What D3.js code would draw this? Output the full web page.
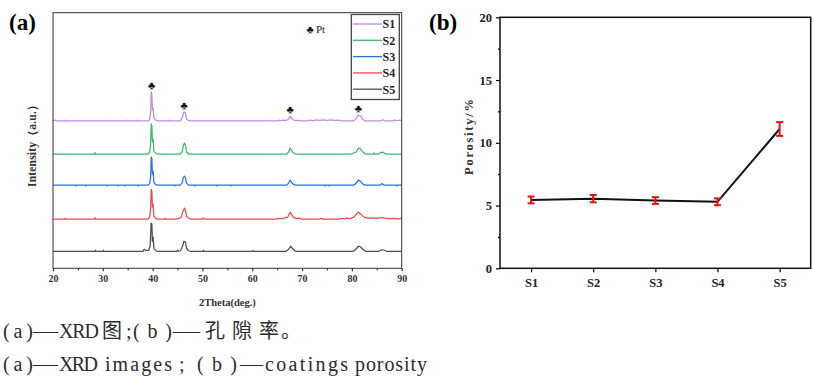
<!DOCTYPE html>
<html lang="en">
<head>
<meta charset="UTF-8">
<title>XRD patterns and coating porosity</title>
<script src="https://d3js.org/d3.v7.min.js"></script>
<style>
  body { margin: 0; background: #fff; }
  svg { display: block; }
  text { font-family: "Liberation Serif", "Times New Roman", serif; }
  .caption { font-family: "Liberation Serif", "Noto Sans CJK SC", serif; fill: #2b2b2b; font-size: 20px; }
  .caption.cjk { font-family: "Noto Sans CJK SC", sans-serif; font-size: 20px; }
</style>
</head>
<body>
<svg width="814" height="388"></svg>

<script>
// ---------- data ----------
const samples = ["S1", "S2", "S3", "S4", "S5"];
const sampleColors = ["#be8de6", "#3db56f", "#2672e2", "#f04a4a", "#4d4d4d"];
// vertical stacking of each pattern, a.u.
const stackOffsets = [130, 97, 66, 32, 0];

// XRD patterns: [2theta, intensity a.u.]
const xrdS1 = [[20,0],[20.6,0.8],[20.8,0],[22.5,0],[22.6,0.8],[22.7,0],[24.3,0],[24.4,0.7],[24.5,0],[30.8,0],[30.9,0.7],[31,0],
  [34.5,0],[34.6,0.8],[34.7,0],[36.8,0],[36.9,0.8],[37,0],[39.1,0],[39.4,1.5],[39.6,9],[39.72,29],[39.85,27],[39.95,11],[40.1,13],
  [40.25,3],[40.6,0.8],[41,0],[43.2,0],[43.3,0.8],[43.4,0],[45.4,0],[45.8,1.5],[46.1,6],[46.3,9],[46.6,8],[46.8,2],[47.2,0.5],[47.6,0],
  [48.3,0],[48.4,0.7],[48.5,0],[62.6,0],[62.8,0.7],[63,0],[65.2,0],[65.4,0.8],[65.7,0.3],[66.3,0.8],[66.8,0.5],[67.2,1.5],[67.6,5],
  [68.1,1.5],[68.6,0.3],[69.5,0.6],[70,0],[71.2,0],[71.5,0.8],[72.2,0.4],[72.8,1],[73.5,0.5],[74.2,1],[75,0.6],[75.8,1],[76.5,0.5],
  [77.3,0.8],[78,0],[80.3,0],[80.8,2],[81.3,6],[81.7,5],[82.2,1.5],[82.7,0],[85.8,0],[86.2,1.2],[86.6,0],[88.3,0],[88.6,0.8],
  [89.2,0.3],[89.6,0.8],[90,0.3]];
const xrdS2 = [[20,0],[28.3,0],[28.4,1.5],[28.5,0],[39.1,0],[39.4,2],[39.6,10],[39.72,30],[39.85,28],[39.95,12],[40.1,15],[40.25,3],
  [40.6,0.8],[41,0],[45.5,0],[45.9,2],[46.2,9],[46.4,11],[46.6,9],[46.8,2],[47.2,0],[66.9,0],[67.3,2],[67.6,6],[68.1,2],[68.6,0],
  [79.8,0],[80.3,1],[80.9,2],[81.3,6],[81.7,5.5],[82.2,2],[82.7,0],[84.3,0],[84.5,1.2],[84.7,0],[85.4,0],[85.8,1.5],[86.2,2],
  [86.6,0.5],[87,0],[90,0]];
const xrdS3 = [[20,0],[24.5,0],[24.6,-0.8],[24.7,0],[26.5,0],[26.6,-0.8],[26.7,0],[30.8,0],[30.9,-0.8],[31,0],[33,0],[33.1,-0.8],
  [33.2,0],[34.3,0],[34.4,-0.8],[34.5,0],[37,0],[37.1,-0.8],[37.2,0],[39.1,0],[39.4,1.5],[39.6,8],[39.72,28],[39.85,26],[39.95,11],
  [40.1,14],[40.25,3],[40.6,0.5],[41,0],[44.4,0],[44.5,-0.8],[44.6,0],[45.5,0],[45.9,2],[46.2,8],[46.4,9],[46.6,7],[46.8,2],[47.2,0],
  [48.4,0],[48.5,-0.8],[48.6,0],[52.8,0],[52.9,-0.8],[53,0],[55.6,0],[55.7,-0.8],[55.8,0],[66.9,0],[67.3,2],[67.6,5],[68.1,1.5],
  [68.6,0],[74.5,0],[74.6,-0.8],[74.7,0],[75.3,0],[75.4,-0.8],[75.5,0],[80.3,0],[80.8,1.5],[81.3,5],[81.7,4],[82.2,1],[82.7,0],
  [85.7,0],[86,1.5],[86.4,0],[88.9,0],[89,-0.8],[89.1,0],[90,0]];
const xrdS4 = [[20,0],[22.3,0],[22.4,0.8],[22.5,0],[28.3,0],[28.4,1.5],[28.5,0],[39.1,0],[39.4,2],[39.6,10],[39.72,30],[39.85,28],
  [39.95,12],[40.1,15],[40.25,3],[40.6,0.8],[41,0],[42.4,0],[42.5,0.8],[42.6,0],[44.8,0],[45.2,0.8],[45.7,1.5],[46.1,8],[46.4,11],
  [46.6,9],[46.8,3],[47.3,0.5],[47.8,0],[50,0],[50.2,1.2],[50.4,0],[64.8,0],[65.2,0.8],[65.8,0.3],[66.4,1],[67.1,2],[67.6,7],
  [68.2,2],[68.8,0.5],[69.4,1],[69.9,0],[73.5,0],[73.8,0.8],[74.2,0],[77.5,0],[77.9,0.8],[78.5,0.3],[79,1],[79.6,0.5],[80.4,2],
  [81.3,7],[81.8,5],[82.4,2],[83.2,1],[84,1.2],[85,0.8],[85.9,1.5],[86.6,1],[87.5,0.5],[88.4,0.8],[89.3,0.4],[90,0.8]];
const xrdS5 = [[20,0],[28.4,0],[28.5,1],[28.6,0],[30,0],[30.1,1],[30.2,0],[38.1,0],[38.3,2],[38.6,1],[39.2,1],[39.5,5],[39.7,28],
  [39.85,27],[39.95,10],[40.1,14],[40.25,3],[40.6,0.5],[41,0],[44.9,0],[45,1],[45.2,0],[45.6,0.5],[46,5],[46.3,10],[46.6,9],
  [46.8,3],[47.2,0.5],[47.6,0],[50.1,0],[50.2,1],[50.3,0],[60,0],[60.1,0.8],[60.2,0],[66.8,0],[67.3,2],[67.7,5],[68.2,2],[68.7,0],
  [80.3,0],[80.8,2],[81.3,5],[81.7,4.5],[82.3,1.5],[82.8,0],[85.4,0],[86,1.5],[86.5,1],[87,0],[90,0]];
const xrdPatterns = [xrdS1, xrdS2, xrdS3, xrdS4, xrdS5];

// Pt reflections marked with a club
const ptPeaks = [39.8, 46.3, 67.6, 81.3];
const xTicksA = [20, 30, 40, 50, 60, 70, 80, 90];
const xMinorA = [25, 35, 45, 55, 65, 75, 85];

// porosity panel
const porosity = [5.45, 5.55, 5.4, 5.3, 11.1];
const porosityErr = [0.27, 0.29, 0.27, 0.27, 0.55];
const yTicksB = [0, 5, 10, 15, 20];
const yMinorB = [2.5, 7.5, 12.5, 17.5];

// ---------- chart ----------
const svg = d3.select("svg");

// ===== panel (a) =====
const a = { left: 53, right: 401.7, top: 12.7, bottom: 268.3 };
const xA = d3.scaleLinear().domain([20, 90]).range([a.left, a.right]);
const yA = d3.scaleLinear().domain([-17, 238]).range([a.bottom, a.top]);

svg.append("text").attr("x", 9).attr("y", 30)
  .attr("font-size", 23).attr("font-weight", "bold").text("(a)");

const lineA = d3.line().x(d => xA(d[0]));
xrdPatterns.forEach((pts, i) => {
  svg.append("path")
    .attr("d", lineA.y(d => yA(d[1] + stackOffsets[i]))(pts))
    .attr("fill", "none")
    .attr("stroke", sampleColors[i])
    .attr("stroke-width", 1.25)
    .attr("stroke-linejoin", "round");
});

// club markers above the S1 peaks
ptPeaks.forEach(p => {
  const top = d3.max(xrdS1.filter(d => Math.abs(d[0] - p) < 0.8), d => d[1]);
  svg.append("text")
    .attr("x", xA(p)).attr("y", yA(stackOffsets[0] + top + 7))
    .attr("text-anchor", "middle").attr("dominant-baseline", "central")
    .attr("font-family", "DejaVu Sans").attr("font-size", 11).attr("fill", "#111")
    .text("\u2663");
});

// frame + axes
svg.append("rect")
  .attr("x", a.left).attr("y", a.top)
  .attr("width", a.right - a.left).attr("height", a.bottom - a.top)
  .attr("fill", "none").attr("stroke", "#333").attr("stroke-width", 1);

const gxA = svg.append("g").attr("transform", `translate(0,${a.bottom})`)
  .call(d3.axisBottom(xA).tickValues(xTicksA).tickSize(3).tickPadding(4).tickFormat(d3.format("d")));
svg.append("g").attr("transform", `translate(0,${a.bottom})`)
  .call(d3.axisBottom(xA).tickValues(xMinorA).tickSize(2).tickFormat(""))
  .call(g => g.select(".domain").remove());
gxA.select(".domain").remove();
svg.selectAll(".tick line").attr("stroke", "#333");
gxA.selectAll("text")
  .attr("font-family", "Liberation Serif").attr("font-size", 10)
  .attr("font-weight", "bold").attr("fill", "#333");

svg.append("text").attr("x", (a.left + a.right) / 2).attr("y", 306)
  .attr("text-anchor", "middle").attr("font-size", 10.5).attr("font-weight", "bold").attr("fill", "#333")
  .text("2Theta(deg.)");

svg.append("text")
  .attr("transform", `translate(36,143) rotate(-90)`)
  .attr("text-anchor", "middle").attr("font-size", 11.5).attr("font-weight", "bold").attr("fill", "#333")
  .attr("textLength", 88).attr("lengthAdjust", "spacing")
  .text("Intensity（a.u.）");

// Pt key
svg.append("text").attr("x", 310).attr("y", 29)
  .attr("text-anchor", "middle").attr("dominant-baseline", "central")
  .attr("font-family", "DejaVu Sans").attr("font-size", 11).attr("fill", "#111").text("\u2663");
svg.append("text").attr("x", 316).attr("y", 32.5)
  .attr("font-size", 11).attr("fill", "#222").text("Pt");

// legend
const leg = svg.append("g");
leg.append("rect").attr("x", 351.3).attr("y", 14.5).attr("width", 48).attr("height", 85)
  .attr("fill", "#fff").attr("stroke", "#444").attr("stroke-width", 1.3);
samples.forEach((s, i) => {
  const yy = 24 + i * 16.3;
  leg.append("line").attr("x1", 353).attr("x2", 382).attr("y1", yy).attr("y2", yy)
    .attr("stroke", sampleColors[i]).attr("stroke-width", 1.3);
  leg.append("text").attr("x", 382.5).attr("y", yy + 4.3)
    .attr("font-size", 12).attr("font-weight", "bold").attr("fill", "#222").text(s);
});

// ===== panel (b) =====
const b = { left: 500, right: 810.7, top: 17.3, bottom: 268.3 };
const xB = d3.scalePoint().domain(samples).range([b.left, b.right]).padding(0.5);
const yB = d3.scaleLinear().domain([0, 20]).range([b.bottom, b.top]);

svg.append("text").attr("x", 429).attr("y", 30)
  .attr("font-size", 23).attr("font-weight", "bold").text("(b)");

svg.append("rect")
  .attr("x", b.left).attr("y", b.top)
  .attr("width", b.right - b.left).attr("height", b.bottom - b.top)
  .attr("fill", "none").attr("stroke", "#111").attr("stroke-width", 1.5);

const gyB = svg.append("g").attr("transform", `translate(${b.left},0)`)
  .call(d3.axisLeft(yB).tickValues(yTicksB).tickSize(4).tickPadding(4));
svg.append("g").attr("transform", `translate(${b.left},0)`)
  .call(d3.axisLeft(yB).tickValues(yMinorB).tickSize(2).tickFormat(""))
  .call(g => g.select(".domain").remove());
const gxB = svg.append("g").attr("transform", `translate(0,${b.bottom})`)
  .call(d3.axisBottom(xB).tickSize(4).tickPadding(6));
gyB.select(".domain").remove();
gxB.select(".domain").remove();
[gyB, gxB].forEach(g => g.selectAll("text")
  .attr("font-family", "Liberation Serif").attr("font-size", 12.5)
  .attr("font-weight", "bold").attr("fill", "#222"));
svg.selectAll(".tick line").attr("stroke-width", 1.2);

svg.append("text")
  .attr("transform", `translate(473,137) rotate(-90)`)
  .attr("text-anchor", "middle").attr("font-size", 12.5).attr("font-weight", "bold").attr("fill", "#333")
  .attr("textLength", 76).attr("lengthAdjust", "spacing")
  .text("Porosity/%");

svg.append("path")
  .attr("d", d3.line().x((d, i) => xB(samples[i])).y(d => yB(d))(porosity))
  .attr("fill", "none").attr("stroke", "#111").attr("stroke-width", 2);

const eb = svg.append("g").attr("stroke", "#f01010").attr("stroke-width", 2);
porosity.forEach((v, i) => {
  const cx = xB(samples[i]);
  const y1 = yB(v + porosityErr[i]), y2 = yB(v - porosityErr[i]);
  eb.append("line").attr("x1", cx).attr("x2", cx).attr("y1", y1).attr("y2", y2);
  eb.append("line").attr("x1", cx - 3.5).attr("x2", cx + 3.5).attr("y1", y1).attr("y2", y1);
  eb.append("line").attr("x1", cx - 3.5).attr("x2", cx + 3.5).attr("y1", y2).attr("y2", y2);
});

// ===== caption (Chinese-typeset, pieces placed one by one) =====
// [text, x, width, cjk]: width given -> letter-spaced from x; otherwise starts at x
function caption(y, pieces) {
  pieces.forEach(([t, x, w, cjk]) => {
    const el = svg.append("text").attr("class", cjk ? "caption cjk" : "caption")
      .attr("x", x).attr("y", y).text(t);
    if (w) el.attr("textLength", w).attr("lengthAdjust", t === "—" ? "spacingAndGlyphs" : "spacing");
  });
}
caption(338, [
  ["(a)", 3, 30], ["—", 33, 25], ["XRD", 59, 40], ["图", 102, 0, true], [";", 126],
  ["(b)", 133, 39], ["—", 173, 27], ["孔隙率", 205, 74, true], ["。", 281, 0, true]
]);
caption(371, [
  ["(a)", 3, 30], ["—", 33, 25], ["XRD", 59, 39], ["images", 105, 67], [";", 179],
  ["(b)", 197, 40], ["—", 240, 23], ["coatings", 265, 83], ["porosity", 355, 72]
]);
</script>
</body>
</html>
